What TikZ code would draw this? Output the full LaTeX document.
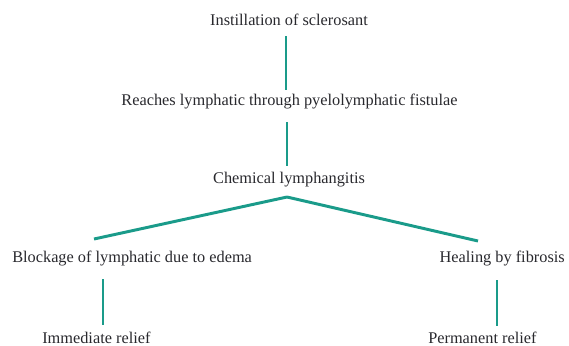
\documentclass[tikz,border=0pt]{standalone}
\usepackage{fontspec}
\setmainfont{Liberation Serif}
\usepackage{tikz}
\usetikzlibrary{calc}
\definecolor{myteal}{RGB}{26, 155, 138}
\definecolor{mytext}{RGB}{40, 40, 45}
\tikzset{link/.style = {draw = myteal, line width = 2.1pt},
         stage/.style = {font = \fontsize{11.6}{14}\selectfont, text = mytext, inner sep = 0pt}}

\begin{document}
\begin{tikzpicture}[x = 0.025cm, y = -0.025cm]
\useasboundingbox (0,0) rectangle (569,345);

% main chain
\node[stage, anchor = base] (instil) at (289, 25) {Instillation of sclerosant};
\node[stage, anchor = base] (reach) at (289.5, 105) {Reaches lymphatic through pyelolymphatic fistulae};
\node[stage, anchor = base] (chem) at (289, 183) {Chemical lymphangitis};

% the two branches
\node[stage, anchor = base west] (block) at (12, 262) {Blockage of lymphatic due to edema};
\node[stage, anchor = base east] (heal) at (565, 262) {Healing by fibrosis};
\node[stage, anchor = base west] (immed) at (42, 343) {Immediate relief};
\node[stage, anchor = base west] (perm) at (428, 343) {Permanent relief};

\draw[link] ($(instil.base)+(-3,11)$) -- ($(reach.base)+(-3.5,-15)$);
\draw[link] ($(reach.base)+(-2.5,17)$) -- ($(chem.base)+(-2,-17)$);
\draw[link] ($(chem.base)+(-2,14)$) -- ($(block.base west)+(82,-23)$);
\draw[link] ($(chem.base)+(-2,14)$) -- ($(heal.base east)+(-87,-21)$);
\draw[link] ($(block.base west)+(91,17)$) -- ($(immed.base west)+(61,-18)$);
\draw[link] ($(heal.base east)+(-68,18)$) -- ($(perm.base west)+(69,-17)$);

\end{tikzpicture}
\end{document}
